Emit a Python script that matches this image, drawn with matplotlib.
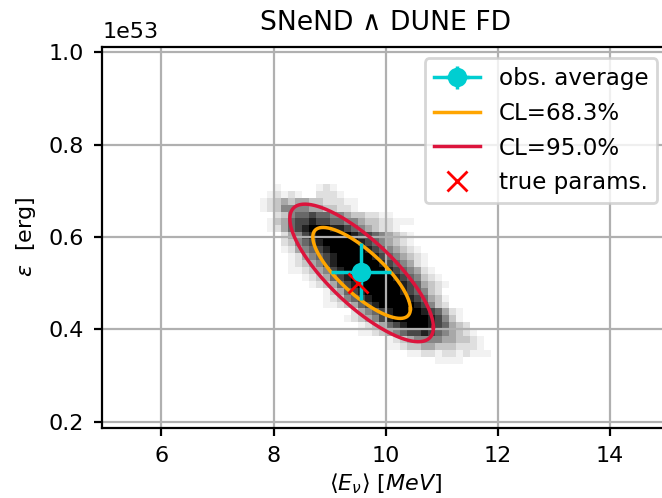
import numpy as np
import matplotlib.pyplot as plt

E53 = 1e53  # eps axis is in erg, shown with a 1e53 offset

# 2D histogram of the fitted (<E_nu>, eps) pairs, grey level 0-9 read off per cell
# each row: (first column, levels from that column on), top row first
hist_x0, hist_dx, hist_ncol = 7.75, 0.125, 34
hist_ytop, hist_dy = 0.715, 0.015
hist_rows = [
    (2, "100000121"),
    (1, "12121002221"),
    (0, "12343443322211"),
    (0, "12355554433221"),
    (2, "23566766554332211"),
    (1, "134677877665543322111"),
    (1, "1246789998876543221"),
    (3, "2457899999877654321"),
    (3, "2356789999987654321"),
    (3, "12456789999987654321"),
    (4, "12456789999987654321"),
    (4, "12345789999998765421"),
    (4, "112345789999998765421"),
    (6, "12346789999998765321"),
    (7, "12346789999998764321"),
    (9, "13467899999876532"),
    (9, "123567899999876431"),
    (9, "112346789999987532"),
    (13, "2456789999876421"),
    (12, "12345789999987531"),
    (14, "1234678999876432"),
    (14, "11234567787654321"),
    (18, "12345555443321"),
    (18, "11233443332221"),
    (21, "112212212111"),
    (25, "1111"),
]

# observed average with errors
obs_E, obs_eps = 9.565, 0.525
obs_E_err, obs_eps_err = 0.535, 0.061

# true parameters
true_E, true_eps = 9.5, 0.5

# confidence ellipses
ell_center = (9.57, 0.522)
ell_rho = -0.79
ell_labels = ["CL=68.3%", "CL=95.0%"]
ell_colors = ["orange", "crimson"]
ell_half_E = [0.87, 1.28]
ell_half_eps = [0.0985, 0.149]


plt.rcParams['font.size'] = 8
fig = plt.figure(figsize=(3.31, 2.49), dpi=200)
ax = fig.add_axes([0.1545, 0.1414, 0.856, 0.7648])

counts = np.zeros((len(hist_rows), hist_ncol))
for i, (c0, levels) in enumerate(hist_rows):
    counts[i, c0:c0 + len(levels)] = [int(v) for v in levels]
counts = np.ma.masked_equal(counts, 0)
x_edges = hist_x0 + hist_dx * np.arange(hist_ncol + 1)
y_edges = (hist_ytop - hist_dy * np.arange(len(hist_rows) + 1)) * E53
ax.pcolormesh(x_edges, y_edges, counts, cmap='Greys', vmin=0, vmax=9)

t = np.linspace(0, 2 * np.pi, 400)
ell_lines = []
for hx, hy, col, lab in zip(ell_half_E, ell_half_eps, ell_colors, ell_labels):
    ex = ell_center[0] + hx * np.cos(t)
    ey = ell_center[1] + hy * (ell_rho * np.cos(t) + np.sqrt(1 - ell_rho**2) * np.sin(t))
    line, = ax.plot(ex, ey * E53, color=col, lw=1.25, label=lab)
    ell_lines.append(line)

eb = ax.errorbar(obs_E, obs_eps * E53, xerr=obs_E_err, yerr=obs_eps_err * E53,
                 fmt='-o', color='darkturquoise', ms=6, lw=1.25, label='obs. average')
tp, = ax.plot(true_E, true_eps * E53, 'x', color='red', ms=7, label='true params.')

ax.set_xlim(4.946, 15.05)
ax.set_ylim(0.187 * E53, 1.012 * E53)
ax.set_xticks([6, 8, 10, 12, 14])
ax.set_yticks(np.array([0.2, 0.4, 0.6, 0.8, 1.0]) * E53)
ax.tick_params(length=3)
ax.grid(True)

ax.set_title("SNeND \u2227 DUNE FD")
ax.set_xlabel(r"$\langle E_\nu \rangle$ [$MeV$]", labelpad=2)
ax.set_ylabel(r"$\varepsilon$  [erg]")
ax.legend(handles=[eb] + ell_lines + [tp], loc='upper right', fontsize=8.3)

fig.savefig("out.png", dpi=200)
